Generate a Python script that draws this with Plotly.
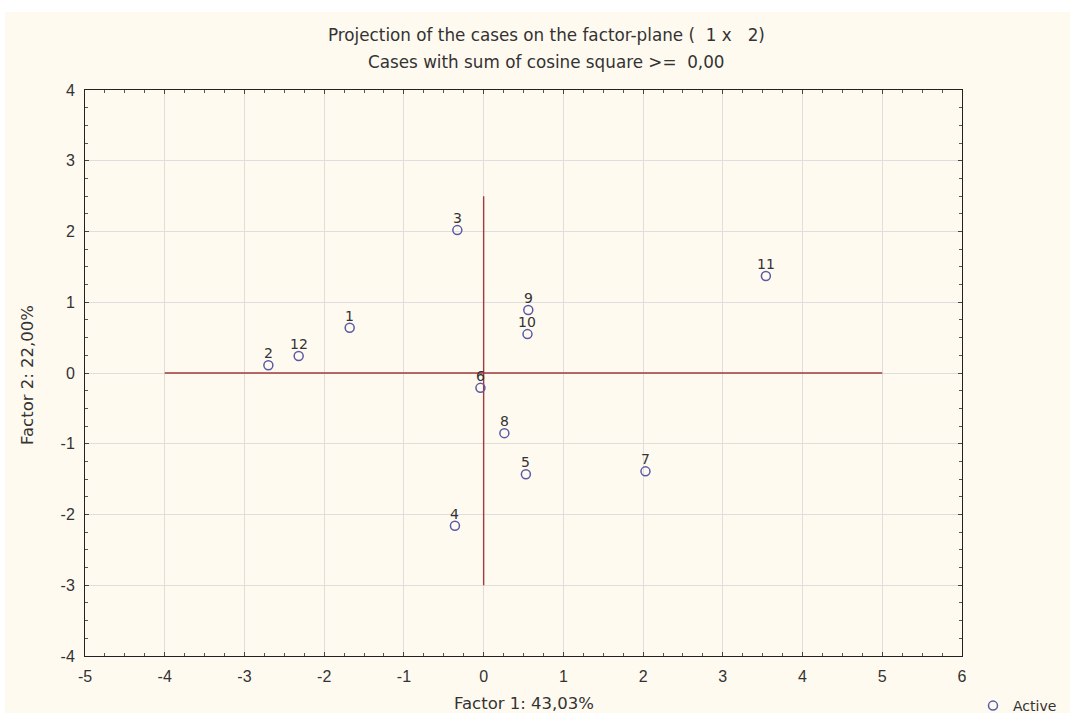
import plotly.graph_objects as go

# Case coordinates on the first two factors
cases = ["1", "2", "3", "4", "5", "6", "7", "8", "9", "10", "11", "12"]
factor1 = [-1.68, -2.70, -0.33, -0.36, 0.53, -0.04, 2.03, 0.26, 0.56, 0.55, 3.54, -2.32]
factor2 = [0.64, 0.11, 2.02, -2.16, -1.43, -0.21, -1.39, -0.85, 0.89, 0.55, 1.37, 0.24]

# Axis ticks
x_ticks = [-5, -4, -3, -2, -1, 0, 1, 2, 3, 4, 5, 6]
y_ticks = [-4, -3, -2, -1, 0, 1, 2, 3, 4]

# Reference axes through the origin
h_line_x = [-4, 5]
v_line_y = [-3, 2.5]

W, H = 1070, 713
L, R, T, B = 85, 108, 90, 57
pw, ph = W - L - R, H - T - B

def px_x(p):
    return (p - L) / pw

def px_y(p):
    return (H - B - p) / ph

FONT = "Liberation Sans, Arial, sans-serif"
WIDE = "DejaVu Sans, sans-serif"
TXT = "#333333"
MARK = "#5a5aa6"
RED = "#a23a3a"

fig = go.Figure()

fig.add_trace(go.Scatter(
    x=h_line_x, y=[0, 0], mode="lines",
    line=dict(color=RED, width=1.4), showlegend=False, hoverinfo="skip"))
fig.add_trace(go.Scatter(
    x=[0, 0], y=v_line_y, mode="lines",
    line=dict(color=RED, width=1.4), showlegend=False, hoverinfo="skip"))

fig.add_trace(go.Scatter(
    x=factor1, y=factor2, mode="markers",
    marker=dict(symbol="circle-open", size=9, color=MARK, line=dict(width=1.5, color=MARK)),
    name="Active", showlegend=True))

# case numbers just above each point
case_labels = [
    dict(x=fx, y=fy, text=c, xref="x", yref="y", showarrow=False, yshift=12,
         font=dict(family=WIDE, size=14, color=TXT))
    for c, fx, fy in zip(cases, factor1, factor2)
]

axis_common = dict(
    showline=True, linecolor="#222222", linewidth=1, mirror="ticks",
    ticks="inside", ticklen=4, tickcolor="#444444",
    showgrid=True, gridcolor="#dedede", gridwidth=1,
    zeroline=False,
    tickfont=dict(family=FONT, size=16, color=TXT),
    minor=dict(dtick=0.25, ticks="inside", ticklen=3, tickcolor="#555555", showgrid=False),
)

fig.update_layout(
    width=W, height=H,
    margin=dict(l=L, r=R, t=T, b=B, pad=0, autoexpand=False),
    paper_bgcolor="#ffffff",
    plot_bgcolor="#ffffff",
    font=dict(family=FONT, color=TXT),
    xaxis=dict(range=[-5, 6], tickmode="array", tickvals=x_ticks, ticklabelstandoff=6,
               ticktext=[str(v) for v in x_ticks], **axis_common),
    yaxis=dict(range=[-4, 4], tickmode="array", tickvals=y_ticks, ticklabelstandoff=6,
               ticktext=[str(v) for v in y_ticks], **axis_common),
    legend=dict(xref="container", yref="container", x=973 / W, y=1 - 706 / H,
                xanchor="left", yanchor="middle",
                bgcolor="rgba(0,0,0,0)", font=dict(family=WIDE, size=14, color=TXT),
                itemwidth=30),
    shapes=[
        # cream page background, leaving a thin light edge at the top and left
        dict(type="rect", xref="paper", yref="paper", x0=px_x(5), x1=px_x(W + 5),
             y0=px_y(H + 5), y1=px_y(12), fillcolor="#fffaf0", line=dict(width=0), layer="below"),
    ],
    annotations=case_labels + [
        dict(text="Projection of the cases on the factor-plane (  1 x   2)", x=px_x(546), y=px_y(35),
             xref="paper", yref="paper", xanchor="center", yanchor="middle", showarrow=False,
             font=dict(size=16.8, family=WIDE, color=TXT)),
        dict(text="Cases with sum of cosine square >=  0,00", x=px_x(546), y=px_y(62),
             xref="paper", yref="paper", xanchor="center", yanchor="middle", showarrow=False,
             font=dict(size=16.8, family=WIDE, color=TXT)),
        dict(text="Factor 1: 43,03%", x=px_x(524), y=px_y(703),
             xref="paper", yref="paper", xanchor="center", yanchor="middle", showarrow=False,
             font=dict(size=16.5, family=WIDE, color=TXT)),
        dict(text="Factor 2: 22,00%", x=px_x(27), y=px_y(375), textangle=-90,
             xref="paper", yref="paper", xanchor="center", yanchor="middle", showarrow=False,
             font=dict(size=16.5, family=WIDE, color=TXT)),
    ],
)

fig.write_html("out.html")
